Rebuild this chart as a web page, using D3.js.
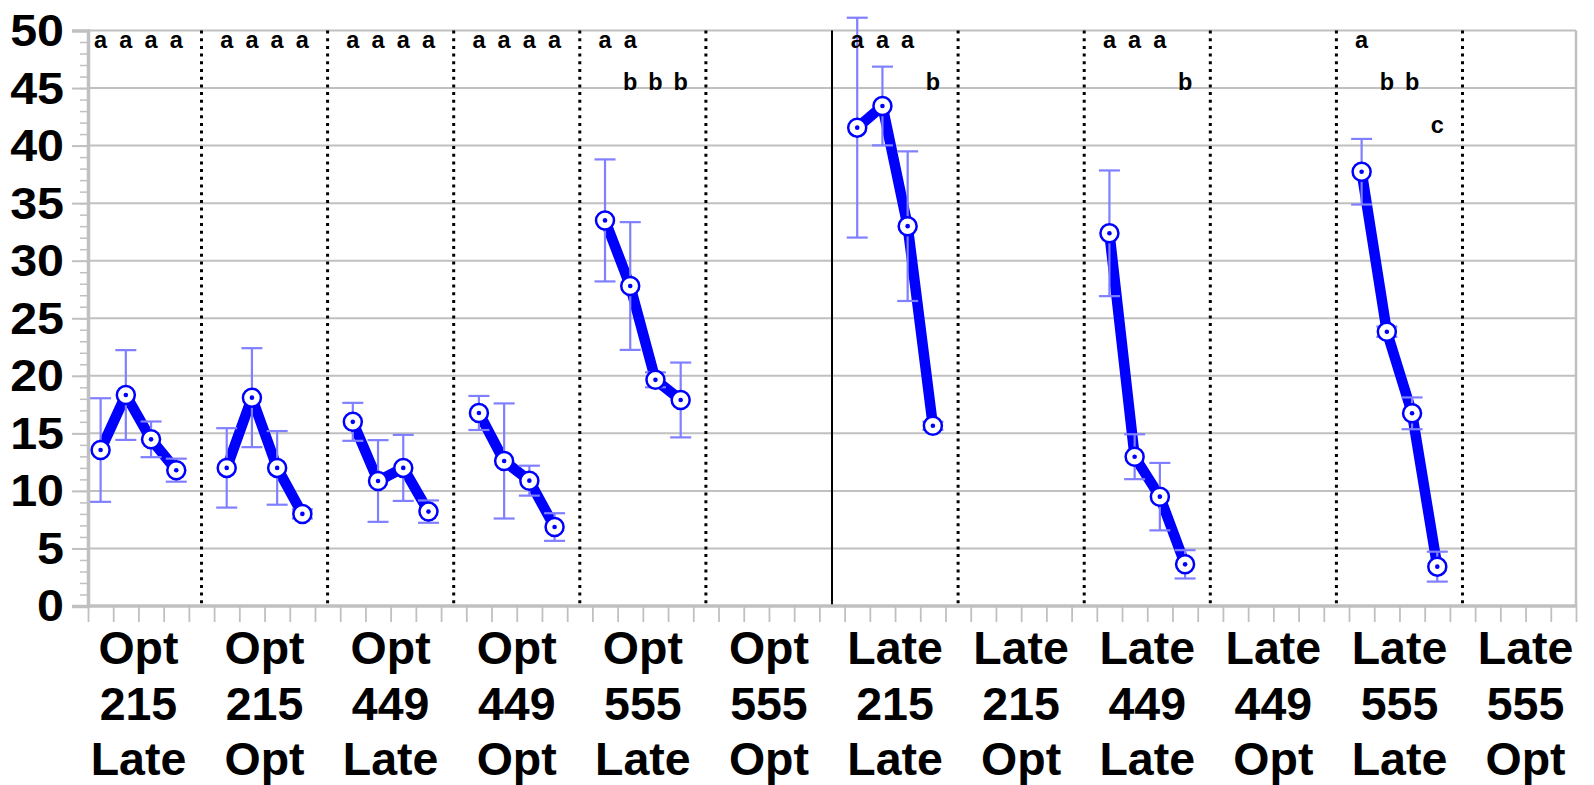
<!DOCTYPE html>
<html>
<head>
<meta charset="utf-8">
<script src="https://cdn.jsdelivr.net/npm/d3@7"></script>
<style>
  html, body { margin: 0; padding: 0; background: #fff; }
  svg { display: block; }
  text { font-family: "Liberation Sans", Arial, Helvetica, sans-serif; font-weight: bold; }
</style>
</head>
<body>
<svg id="chart" width="1594" height="785"></svg>
<script>
// ---- data ----
const line1 = ["Opt","Opt","Opt","Opt","Opt","Opt","Late","Late","Late","Late","Late","Late"];
const line2 = ["215","215","449","449","555","555","215","215","449","449","555","555"];
const line3 = ["Late","Opt","Late","Opt","Late","Opt","Late","Opt","Late","Opt","Late","Opt"];

const means = [
  [13.55, 18.33, 14.48, 11.8],
  [12.0, 18.1, 12.0, 8.0],
  [16.0, 10.86, 12.0, 8.2],
  [16.77, 12.6, 10.89, 6.86],
  [33.5, 27.8, 19.65, 17.9],
  [],
  [41.56, 43.44, 33.0, 15.66],
  [],
  [32.38, 12.97, 9.5, 3.62],
  [],
  [37.73, 23.83, 16.74, 3.42],
  []
];
const errs = [
  [4.5, 3.9, 1.55, 1.0],
  [3.45, 4.3, 3.2, 0.4],
  [1.65, 3.55, 2.87, 0.97],
  [1.48, 5.0, 1.3, 1.2],
  [5.3, 5.55, 0.65, 3.25],
  [],
  [9.55, 3.42, 6.5, 0.35],
  [],
  [5.46, 1.95, 2.93, 1.23],
  [],
  [2.85, 0.45, 1.38, 1.3],
  []
];
const letters = [
  ["a","a","a","a"],
  ["a","a","a","a"],
  ["a","a","a","a"],
  ["a","a","a","a"],
  ["a","ab","b","b"],
  [],
  ["a","a","a","b"],
  [],
  ["a","a","a","b"],
  [],
  ["a","b","b","c"],
  []
];
const yTicks = [0,5,10,15,20,25,30,35,40,45,50];

// ---- layout ----
const L = 88, R = 1576, T = 30.5, B = 606;
const nGroups = 12, perGroup = 5;
const nSlots = nGroups * perGroup - 1;
const svg = d3.select("#chart");

const x = d3.scaleBand().domain(d3.range(nSlots)).range([L, R]).padding(0);
const xl = d3.scaleLinear().domain([0, nSlots]).range([L, R]);
const y = d3.scaleLinear().domain([0, 50]).range([B, T]);
const cx = (g, i) => x(g * perGroup + i) + x.bandwidth() / 2;

const grid = "#c0c0c0";

// gridlines
svg.append("g").selectAll("line").data(yTicks.filter(v => v > 0)).join("line")
  .attr("x1", L).attr("x2", R).attr("y1", d => y(d)).attr("y2", d => y(d))
  .attr("stroke", grid).attr("stroke-width", 2);

// right border
svg.append("line").attr("x1", R).attr("x2", R).attr("y1", y(50)).attr("y2", B)
  .attr("stroke", grid).attr("stroke-width", 2.5);

// dividers
const divs = d3.range(nGroups - 1);
svg.append("g").selectAll("line").data(divs).join("line")
  .attr("x1", g => cx(g, 4)).attr("x2", g => cx(g, 4))
  .attr("y1", y(50)).attr("y2", B)
  .attr("stroke", "#000")
  .attr("stroke-width", g => g === 5 ? 2 : 3)
  .attr("stroke-dasharray", g => g === 5 ? null : "3,4.7");

// minor y ticks
const minorAxis = d3.axisLeft(y).tickValues(d3.range(0, 51)).tickSize(8).tickFormat("");
const gm = svg.append("g").attr("transform", `translate(${L},0)`).call(minorAxis);
gm.select(".domain").remove();
gm.selectAll(".tick line").attr("stroke", grid).attr("stroke-width", 1.5);

// major y axis
const sx = 1.1;
const yAxis = d3.axisLeft(y).tickValues(yTicks).tickSize(16).tickPadding(7).tickFormat(d3.format("d"));
const gy = svg.append("g").attr("transform", `translate(${L},0)`).call(yAxis);
gy.select(".domain").attr("stroke", grid).attr("stroke-width", 3.5);
gy.selectAll(".tick line").attr("stroke", grid).attr("stroke-width", 2);
gy.selectAll(".tick text").attr("font-size", 44).attr("fill", "#000")
  .attr("font-family", "'Liberation Sans', Arial, sans-serif").attr("font-weight", "bold")
  .attr("x", -24 / sx).attr("dy", "0.34em").attr("transform", `scale(${sx},1)`);

// x axis ticks
const xAxis = d3.axisBottom(xl).tickValues(d3.range(nSlots + 1)).tickSize(16).tickFormat("");
const gx = svg.append("g").attr("transform", `translate(0,${B})`).call(xAxis);
gx.select(".domain").attr("stroke", grid).attr("stroke-width", 3.5).attr("d", `M${L-1},0H${R+1}`);
gx.selectAll(".tick line").attr("stroke", grid).attr("stroke-width", 1.8);

// group labels
const gl = svg.append("g").selectAll("text").data(d3.range(nGroups)).join("text")
  .attr("text-anchor", "middle").attr("font-size", 46.5).attr("fill", "#000");
gl.append("tspan").attr("x", g => xl(g * perGroup + 2)).attr("y", 664).text(g => line1[g]);
gl.append("tspan").attr("x", g => xl(g * perGroup + 2)).attr("y", 720).text(g => line2[g]);
gl.append("tspan").attr("x", g => xl(g * perGroup + 2)).attr("y", 775).text(g => line3[g]);

// series
const lineGen = d3.line().x(d => d.x).y(d => d.y);
const letterLevel = { a: 48.5, b: 44.8, c: 41.1 };

means.forEach((arr, g) => {
  if (!arr.length) return;
  const pts = arr.map((m, i) => ({ x: cx(g, i), y: y(m), m, e: errs[g][i] }));
  svg.append("path").attr("d", lineGen(pts)).attr("fill", "none")
    .attr("stroke", "#0000ff").attr("stroke-width", 10.5).attr("stroke-linejoin", "round");
  const eb = svg.append("g").attr("stroke", "#7f7fff").attr("stroke-width", 2.2);
  pts.forEach(p => {
    const t = y(p.m + p.e), b = y(p.m - p.e);
    eb.append("line").attr("x1", p.x).attr("x2", p.x).attr("y1", t).attr("y2", b);
    eb.append("line").attr("x1", p.x - 10.5).attr("x2", p.x + 10.5).attr("y1", t).attr("y2", t);
    eb.append("line").attr("x1", p.x - 10.5).attr("x2", p.x + 10.5).attr("y1", b).attr("y2", b);
  });
  const mk = svg.append("g");
  mk.selectAll("circle.o").data(pts).join("circle").attr("class", "o")
    .attr("cx", d => d.x).attr("cy", d => d.y).attr("r", 9)
    .attr("fill", "#fff").attr("stroke", "#0000ff").attr("stroke-width", 2.5);
  mk.selectAll("circle.i").data(pts).join("circle").attr("class", "i")
    .attr("cx", d => d.x).attr("cy", d => d.y).attr("r", 2.3).attr("fill", "#0000ff");
});

// significance letters
letters.forEach((arr, g) => {
  arr.forEach((s, i) => {
    s.split("").forEach(ch => {
      svg.append("text").attr("x", cx(g, i)).attr("y", y(letterLevel[ch]))
        .attr("text-anchor", "middle").attr("font-size", 23.5).attr("fill", "#000").text(ch);
    });
  });
});
</script>
</body>
</html>
